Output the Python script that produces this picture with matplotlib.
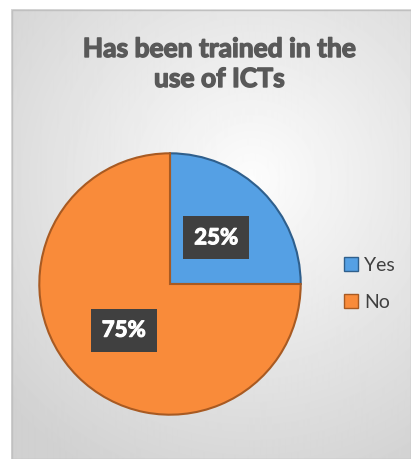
import numpy as np
import matplotlib.pyplot as plt
import matplotlib.patheffects as pe
from matplotlib.lines import Line2D

labels = ["Yes", "No"]
values = [25, 75]
colors = ["#55a0e4", "#f98b3a"]
edges = ["#2f5f8c", "#a85a22"]
title = "Has been trained in the\nuse of ICTs"

W, H = 411, 459
fig = plt.figure(figsize=(W / 100, H / 100), dpi=100)
fig.patch.set_facecolor("white")

# background panel with a soft radial gradient
bg = fig.add_axes([11 / W, 0, (W - 11) / W, (H - 9) / H])
yy, xx = np.mgrid[0:450, 0:400]
d = np.sqrt(((xx - 240) / 330) ** 2 + ((yy - 170) / 330) ** 2)
shade = 0.99 - 0.17 * np.clip(d, 0, 1)
bg.imshow(shade, cmap="gray", vmin=0, vmax=1, aspect="auto", interpolation="bilinear")
bg.set_axis_off()
bg.add_patch(plt.Rectangle((0, 0), 399, 449, fill=False, ec="#c0c0c0", lw=1))

fig.text(219 / W, 1 - 64 / H, title, ha="center", va="center", fontsize=19,
         fontweight="bold", color="#595959", family="Lato", linespacing=1.3,
         path_effects=[pe.withStroke(linewidth=1.0, foreground="#595959")])

# pie axes: centre (170, 284), radius 132 px
r = 132
ax = fig.add_axes([(170 - r) / W, 1 - (284 + r) / H, 2 * r / W, 2 * r / H])
wedges, _ = ax.pie(values, colors=colors, startangle=90, counterclock=False,
                   wedgeprops=dict(linewidth=1.5))
for w, ec in zip(wedges, edges):
    w.set_edgecolor(ec)
ax.set_xlim(-1.01, 1.01)
ax.set_ylim(-1.01, 1.01)
ax.set_aspect("equal")

# data labels
for w, v in zip(wedges, values):
    ang = np.deg2rad((w.theta1 + w.theta2) / 2)
    rx, ry = 0.5 * np.cos(ang), 0.5 * np.sin(ang)
    ax.text(rx, ry, f"{v}%", ha="center", va="center", fontsize=16,
            fontweight="bold", color="white", family="Lato",
            path_effects=[pe.withStroke(linewidth=0.8, foreground="white")],
            bbox=dict(boxstyle="square,pad=0.5", fc="#404040", ec="none"))

handles = [Line2D([], [], marker="s", ls="none", markersize=10, markerfacecolor=c,
                  markeredgecolor=e) for c, e in zip(colors, edges)]
fig.legend(handles, labels, loc="center left", bbox_to_anchor=(343 / W, 1 - 284 / H),
           frameon=False, handlelength=0.8, handletextpad=0.3, labelspacing=1.0,
           borderaxespad=0, borderpad=0, labelcolor="#404040",
           prop=dict(family="Lato", size=14))

fig.savefig("out.png", dpi=100)
